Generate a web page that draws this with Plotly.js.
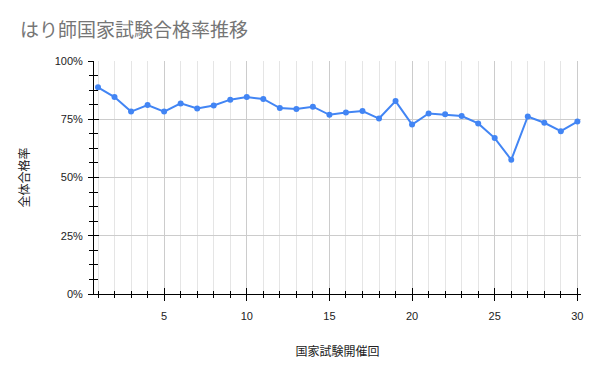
<!DOCTYPE html>
<html>
<head>
<meta charset="utf-8">
<script src="https://cdn.plot.ly/plotly-3.0.1.min.js"></script>
<style>html,body{margin:0;padding:0;background:#fff;}#chart{width:600px;height:371px;}</style>
</head>
<body>
<div id="chart"></div>
<script>
// Data
const rounds = [1,2,3,4,5,6,7,8,9,10,11,12,13,14,15,16,17,18,19,20,21,22,23,24,25,26,27,28,29,30];
const passRate = [88.7,84.5,78.3,81.1,78.3,81.8,79.6,80.9,83.4,84.5,83.7,79.8,79.4,80.4,76.9,77.9,78.5,75.3,82.8,72.7,77.5,77.1,76.4,73.2,66.9,57.6,76.2,73.5,69.9,74.0];
const yTickVals = [0,25,50,75,100];
const xTickVals = [5,10,15,20,25,30];

const chartTitle = 'はり師国家試験合格率推移';
const xTitle = '国家試験開催回';
const yTitle = '全体合格率';

const FONT = '"Liberation Sans", Arial, "Noto Sans CJK JP", sans-serif';
const XR = [0.758, 30.22];
const YR = [0, 100];

const trace = {
  x: rounds, y: passRate, type: 'scatter', mode: 'lines+markers',
  line: {color: '#4285F4', width: 2},
  marker: {color: '#4285F4', size: 6},
  cliponaxis: false,
  hoverinfo: 'skip', showlegend: false
};
// invisible companion trace so the overlay axes (inner half of crossing ticks) get drawn
const tickTrace = {
  x: rounds, y: passRate, type: 'scatter', mode: 'markers',
  xaxis: 'x2', yaxis: 'y2', marker: {opacity: 0},
  hoverinfo: 'skip', showlegend: false
};

const layout = {
  width: 600, height: 371,
  margin: {l: 94, r: 19, t: 61, b: 77},
  paper_bgcolor: '#fff', plot_bgcolor: '#fff',
  font: {family: FONT, size: 11, color: '#222'},
  title: {text: chartTitle, x: 20/600, xref: 'container', xanchor: 'left',
          y: 1 - 30/371, yref: 'container', yanchor: 'middle',
          font: {family: FONT, size: 19, color: '#757575'}},
  xaxis: {
    range: XR, tickmode: 'array', tickvals: xTickVals, ticktext: xTickVals.map(String),
    ticks: 'outside', ticklen: 6, tickcolor: '#000', tickwidth: 1,
    showgrid: true, gridcolor: '#cccccc', gridwidth: 1,
    minor: {dtick: 1, tick0: 0, ticks: 'outside', ticklen: 3, tickcolor: '#000', showgrid: true, gridcolor: '#e5e5e5', gridwidth: 1},
    showline: true, linecolor: '#000', linewidth: 1, zeroline: false,
    ticklabelstandoff: 6, tickfont: {size: 11, color: '#222'},
    title: {text: xTitle, standoff: 26, font: {size: 12, color: '#222'}}
  },
  yaxis: {
    range: YR, tickmode: 'array', tickvals: yTickVals, ticktext: yTickVals.map(v => v + '%'),
    ticks: 'outside', ticklen: 5, tickcolor: '#000', tickwidth: 1,
    showgrid: true, gridcolor: '#cccccc', gridwidth: 1,
    minor: {dtick: 6.25, tick0: 0, ticks: 'outside', ticklen: 4, tickcolor: '#000', showgrid: false},
    showline: true, linecolor: '#000', linewidth: 1, zeroline: false,
    ticklabelstandoff: 3, tickfont: {size: 11, color: '#222'},
    title: {text: yTitle, standoff: 22, font: {size: 12, color: '#222'}}
  },
  xaxis2: {
    overlaying: 'x', anchor: 'y2', side: 'bottom', range: XR,
    tickmode: 'array', tickvals: xTickVals, showticklabels: false,
    ticks: 'inside', ticklen: 6, tickcolor: '#000',
    minor: {dtick: 1, tick0: 0, ticks: 'inside', ticklen: 3, tickcolor: '#000', showgrid: false},
    showgrid: false, zeroline: false, showline: false
  },
  yaxis2: {
    overlaying: 'y', anchor: 'x2', side: 'left', range: YR,
    tickmode: 'array', tickvals: yTickVals, showticklabels: false,
    ticks: 'inside', ticklen: 5, tickcolor: '#000',
    minor: {dtick: 6.25, tick0: 0, ticks: 'inside', ticklen: 4, tickcolor: '#000', showgrid: false},
    showgrid: false, zeroline: false, showline: false
  }
};

Plotly.newPlot('chart', [trace, tickTrace], layout, {staticPlot: true, displayModeBar: false});
</script>
</body>
</html>
